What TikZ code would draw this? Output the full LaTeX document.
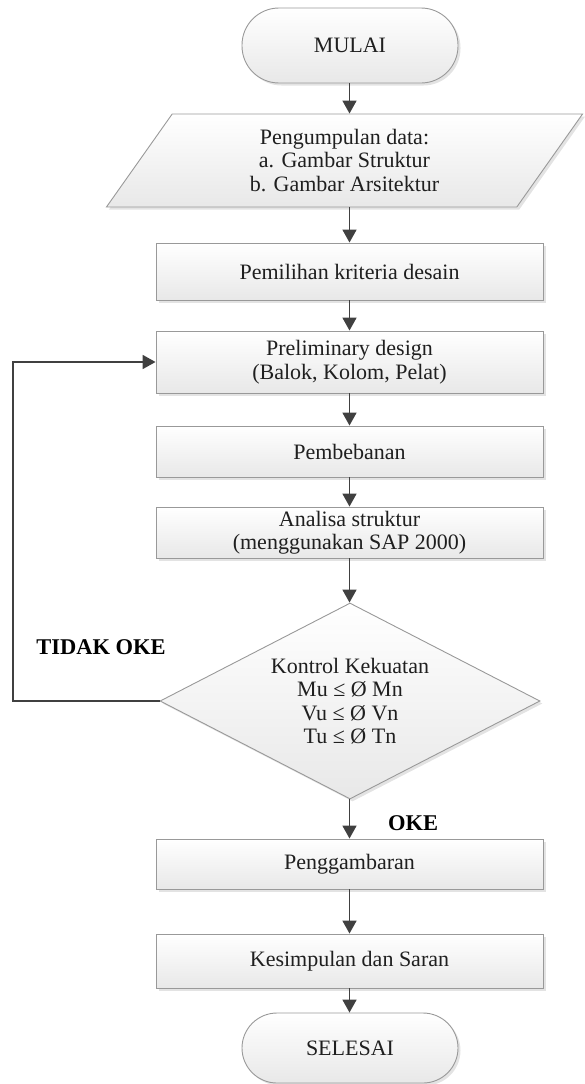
\documentclass[tikz,border=0pt]{standalone}
\usepackage{fontspec}
\setmainfont{Liberation Serif}
\usetikzlibrary{shapes.geometric,arrows.meta,shadows}
\begin{document}
\begin{tikzpicture}[x=1pt,y=-1pt,
 base/.style={draw=black!40, line width=0.9pt, top color=white, bottom color=black!9,
   drop shadow={shadow xshift=2.5pt, shadow yshift=-2.5pt, fill=black!18, opacity=0.6},
   font=\fontsize{22}{23.5}\selectfont, text=black!88, align=center, inner sep=0pt},
 term/.style={base, rounded corners=37pt, minimum width=216pt, minimum height=75pt},
 proc/.style={base, minimum width=387pt},
 arr/.style={draw=black!75, line width=1.8pt, -{Triangle[length=13pt,width=14pt]}},
 lbl/.style={font=\bfseries\fontsize{22.5}{24}\selectfont, text=black}
]
\useasboundingbox (0,0) rectangle (584,1084);
\node[term] (start) at (350,45.5) {MULAI};
\node[base, trapezium, trapezium left angle=60, trapezium right angle=120, trapezium stretches=true,
      minimum width=477pt, minimum height=93pt] (data) at (344.5,160.5)
      {Pengumpulan data:\\a. Gambar Struktur\\b. Gambar Arsitektur};
\node[proc, minimum height=57pt] (crit) at (349.5,271.5) {Pemilihan kriteria desain};
\node[proc, minimum height=62pt] (prel) at (349.5,362) {Preliminary design\\(Balok, Kolom, Pelat)};
\node[proc, minimum height=51pt] (load) at (349.5,451.5) {Pembebanan};
\node[proc, minimum height=51pt] (anal) at (349.5,532.5) {Analisa struktur\\(menggunakan SAP 2000)};
\node[base, diamond, aspect=1.94, minimum width=380pt, minimum height=196pt] (ctrl) at (350,701)
      {Kontrol Kekuatan\\Mu ≤ Ø Mn\\Vu ≤ Ø Vn\\Tu ≤ Ø Tn};
\node[proc, minimum height=50pt] (pgb) at (349.5,864) {Penggambaran};
\node[proc, minimum height=54pt] (conc) at (349.5,961) {Kesimpulan dan Saran};
\node[term, minimum height=70pt, rounded corners=35pt] (finish) at (350,1048) {SELESAI};
\node[lbl] (no) at (101,647) {TIDAK OKE};
\node[lbl] (yes) at (413,823) {OKE};
\coordinate (lt) at (13,362);

\draw[arr] (start.south -| crit.north) -- (data.north -| crit.north);
\draw[arr] (data.south -| crit.north) -- (crit.north);
\draw[arr] (crit.south) -- (prel.north);
\draw[arr] (prel.south) -- (load.north);
\draw[arr] (load.south) -- (anal.north);
\draw[arr] (anal.south) -- (ctrl.north -| anal.south);
\draw[arr] (ctrl.south -| pgb.north) -- (pgb.north);
\draw[arr] (pgb.south) -- (conc.north);
\draw[arr] (conc.south) -- (finish.north -| conc.south);
\draw[arr] (ctrl.west) -- (ctrl.west -| lt) -- (lt) -- (prel.west);
\end{tikzpicture}
\end{document}
